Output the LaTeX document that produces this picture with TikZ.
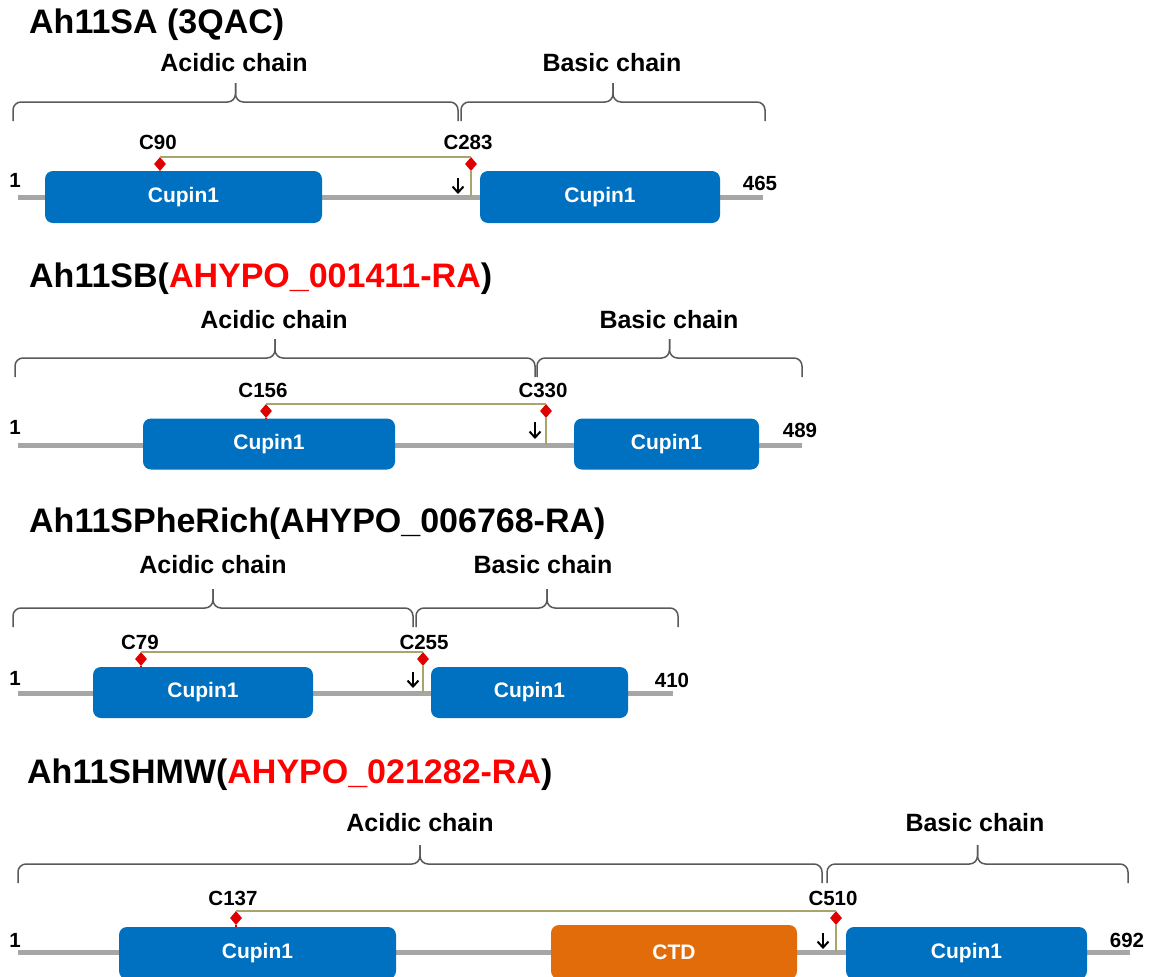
\documentclass[tikz,border=0pt]{standalone}
\usepackage{fontspec}
\setmainfont{Liberation Sans}
\usetikzlibrary{shapes.geometric,arrows.meta,calc}
\definecolor{cupblue}{HTML}{0070C0}
\definecolor{ctdorange}{HTML}{E36C0A}
\definecolor{ssline}{RGB}{168,164,108}
\definecolor{bbgray}{HTML}{A6A6A6}
\definecolor{bracegray}{HTML}{595959}
\definecolor{cysred}{HTML}{E00000}
\definecolor{idred}{HTML}{FF0000}
% curly brace: #1 left x, #2 right x, #3 bottom y of ends
\newcommand{\chainbr}[3]{%
  \pgfmathsetmacro{\bxm}{(#1+#2)/2}%
  \pgfmathsetmacro{\byf}{#3-19}%
  \pgfmathsetmacro{\byt}{#3-38}%
  \draw[bracepath] (#1,#3) -- (#1,\byf) -- (\bxm,\byf) -- (\bxm,\byt);
  \draw[bracepath] (\bxm,\byt) -- (\bxm,\byf) -- (#2,\byf) -- (#2,#3);
}
\begin{document}
\begin{tikzpicture}[x=1pt,y=-1pt,
  title/.style={anchor=base west, inner sep=0pt, font=\fontsize{34}{40}\selectfont\bfseries},
  chain/.style={inner sep=0pt, font=\fontsize{25}{30}\selectfont\bfseries},
  lab/.style={inner sep=0pt, font=\fontsize{20.5}{24}\selectfont\bfseries},
  dom/.style={rounded corners=8pt, inner sep=0pt, text=white, font=\fontsize{21}{24}\selectfont\bfseries},
  cupin/.style={dom, fill=cupblue},
  ctd/.style={dom, fill=ctdorange},
  cys/.style={diamond, fill=cysred, inner sep=0pt, minimum width=12pt, minimum height=14pt},
  backbone/.style={draw=bbgray, line width=5pt},
  ssbond/.style={draw=ssline, line width=2pt},
  stem/.style={draw=cysred, line width=2pt},
  cleave/.style={draw=black, line width=2pt, -{Straight Barb[length=6pt,width=11pt]}},
  bracepath/.style={draw=bracegray, line width=1.5pt, rounded corners=8pt}
]
\useasboundingbox (0,0) rectangle (1151,977);

% ---------------- Panel 1 ----------------
\node[title] (t1) at (29,33) {Ah11SA (3QAC)};
\node[chain] (ac1) at (234,63) {Acidic chain};
\node[chain] (bc1) at (612,63) {Basic chain};
\chainbr{13}{458}{121}
\chainbr{461}{765}{121}
\coordinate (s1) at (18,197);
\coordinate (e1) at (763,197);
\draw[backbone] (s1) -- (e1);
\node[cupin, minimum width=277pt, minimum height=52pt] (d11) at (183.5,197) {Cupin1};
\node[cupin, minimum width=240pt, minimum height=52pt] (d12) at (600,197) {Cupin1};
\node[lab] (n1a) at (15,180) {1};
\node[lab] (n1b) at (760,183) {465};
\node[lab] (l1a) at (158,142) {C90};
\node[lab] (l1b) at (468,142) {C283};
\node[cys] (c1a) at (160,164) {};
\node[cys] (c1b) at (471,164) {};
\draw[ssbond] (c1a.north) -- (c1b.north);
\draw[ssbond] (c1b.south) -- (c1b.south |- s1);
\draw[stem] (c1a.south) -- (c1a.south |- d11.north);
\coordinate (k1a) at (458,178);
\coordinate (k1b) at (458,194);
\draw[cleave] (k1a) -- (k1b);

% ---------------- Panel 2 ----------------
\node[title] (t2) at (29,287) {Ah11SB(\textcolor{idred}{AHYPO\_001411-RA})};
\node[chain] (ac2) at (274,320) {Acidic chain};
\node[chain] (bc2) at (669,320) {Basic chain};
\chainbr{15}{535}{377}
\chainbr{537}{802}{377}
\coordinate (s2) at (18,445);
\coordinate (e2) at (802,445);
\draw[backbone] (s2) -- (e2);
\node[cupin, minimum width=252pt, minimum height=51pt] (d21) at (269,444) {Cupin1};
\node[cupin, minimum width=185pt, minimum height=51pt] (d22) at (666.5,444) {Cupin1};
\node[lab] (n2a) at (15,427) {1};
\node[lab] (n2b) at (800,430) {489};
\node[lab] (l2a) at (263,390) {C156};
\node[lab] (l2b) at (543,390) {C330};
\node[cys] (c2a) at (266,411) {};
\node[cys] (c2b) at (546,411) {};
\draw[ssbond] (c2a.north) -- (c2b.north);
\draw[ssbond] (c2b.south) -- (c2b.south |- s2);
\draw[stem] (c2a.south) -- (c2a.south |- d21.north);
\coordinate (k2a) at (535,422);
\coordinate (k2b) at (535,439);
\draw[cleave] (k2a) -- (k2b);

% ---------------- Panel 3 ----------------
\node[title] (t3) at (29,532) {Ah11SPheRich(AHYPO\_006768-RA)};
\node[chain] (ac3) at (213,565) {Acidic chain};
\node[chain] (bc3) at (543,565) {Basic chain};
\chainbr{13}{413}{627}
\chainbr{416}{678}{627}
\coordinate (s3) at (18,693);
\coordinate (e3) at (673,693);
\draw[backbone] (s3) -- (e3);
\node[cupin, minimum width=220pt, minimum height=51pt] (d31) at (203,692.5) {Cupin1};
\node[cupin, minimum width=197pt, minimum height=51pt] (d32) at (529.5,692.5) {Cupin1};
\node[lab] (n3a) at (15,678) {1};
\node[lab] (n3b) at (672,680) {410};
\node[lab] (l3a) at (140,642) {C79};
\node[lab] (l3b) at (424,642) {C255};
\node[cys] (c3a) at (141,659) {};
\node[cys] (c3b) at (423,659) {};
\draw[ssbond] (c3a.north) -- (c3b.north);
\draw[ssbond] (c3b.south) -- (c3b.south |- s3);
\draw[stem] (c3a.south) -- (c3a.south |- d31.north);
\coordinate (k3a) at (413,672);
\coordinate (k3b) at (413,688);
\draw[cleave] (k3a) -- (k3b);

% ---------------- Panel 4 ----------------
\node[title] (t4) at (27,783) {Ah11SHMW(\textcolor{idred}{AHYPO\_021282-RA})};
\node[chain] (ac4) at (420,823) {Acidic chain};
\node[chain] (bc4) at (975,823) {Basic chain};
\chainbr{18}{822}{883}
\chainbr{827}{1128}{883}
\coordinate (s4) at (18,952);
\coordinate (e4) at (1130,952);
\draw[backbone] (s4) -- (e4);
\node[cupin, minimum width=277pt, minimum height=52pt] (d41) at (257.5,953) {Cupin1};
\node[ctd, minimum width=246pt, minimum height=54pt] (d42) at (674,952) {CTD};
\node[cupin, minimum width=241pt, minimum height=52pt] (d43) at (966.5,953) {Cupin1};
\node[lab] (n4a) at (15,940) {1};
\node[lab] (n4b) at (1127,940) {692};
\node[lab] (l4a) at (233,898) {C137};
\node[lab] (l4b) at (833,898) {C510};
\node[cys] (c4a) at (236,918) {};
\node[cys] (c4b) at (836,918) {};
\draw[ssbond] (c4a.north) -- (c4b.north);
\draw[ssbond] (c4b.south) -- (c4b.south |- s4);
\draw[stem] (c4a.south) -- (c4a.south |- d41.north);
\coordinate (k4a) at (823,933);
\coordinate (k4b) at (823,949);
\draw[cleave] (k4a) -- (k4b);
\end{tikzpicture}
\end{document}
